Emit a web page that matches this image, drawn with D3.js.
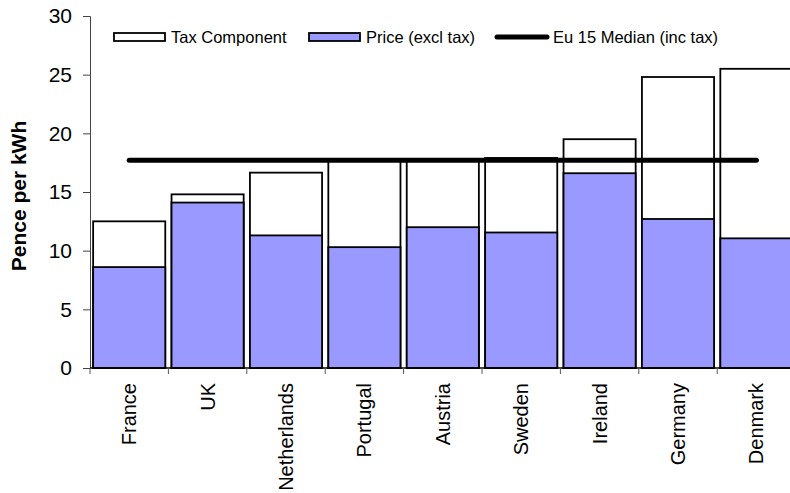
<!DOCTYPE html>
<html>
<head>
<meta charset="utf-8">
<script src="https://cdn.jsdelivr.net/npm/d3@7"></script>
<style>
  html, body { margin: 0; padding: 0; background: #fff; }
  svg { display: block; font-family: "Liberation Sans", Arial, sans-serif; }
</style>
</head>
<body>
<svg id="chart" width="790" height="493"></svg>
<script>
const categories = ["France", "UK", "Netherlands", "Portugal", "Austria", "Sweden", "Ireland", "Germany", "Denmark"];
const priceExclTax = [8.6, 14.1, 11.3, 10.3, 12.0, 11.55, 16.6, 12.7, 11.05];
const totalIncTax = [12.5, 14.8, 16.65, 17.7, 17.7, 17.9, 19.5, 24.8, 25.5];
const euMedian = 17.7;
const yTicks = [0, 5, 10, 15, 20, 25, 30];
const legendLabels = ["Tax Component", "Price (excl tax)", "Eu 15 Median (inc tax)"];

const svg = d3.select("#chart");
const mLeft = 90, mTop = 16, mBottom = 368;
const step = 78.4;

const x = d3.scaleBand()
  .domain(categories)
  .range([mLeft, mLeft + step * categories.length])
  .paddingInner(0.08)
  .paddingOuter(0.04);

const y = d3.scaleLinear().domain([0, 30]).range([mBottom, mTop]);

const g = svg.append("g");
const data = categories.map((c, i) => ({ c, price: priceExclTax[i], total: totalIncTax[i] }));

g.selectAll("rect.total").data(data).join("rect")
  .attr("class", "total")
  .attr("x", d => x(d.c))
  .attr("width", x.bandwidth())
  .attr("y", d => y(d.total))
  .attr("height", d => y(0) - y(d.total))
  .attr("fill", "#ffffff")
  .attr("stroke", "#000")
  .attr("stroke-width", 1.8);

g.selectAll("rect.price").data(data).join("rect")
  .attr("class", "price")
  .attr("x", d => x(d.c))
  .attr("width", x.bandwidth())
  .attr("y", d => y(d.price))
  .attr("height", d => y(0) - y(d.price))
  .attr("fill", "#9999ff")
  .attr("stroke", "#000")
  .attr("stroke-width", 1.8);

// Y axis
const yAxis = d3.axisLeft(y).tickValues(yTicks).tickSize(7).tickPadding(11);
const ya = svg.append("g").attr("transform", `translate(${mLeft},0)`).call(yAxis);
ya.select(".domain").attr("stroke", "#444").attr("stroke-width", 1);
ya.selectAll(".tick line").attr("stroke", "#444");
ya.selectAll(".tick text")
  .attr("font-size", 21)
  .attr("fill", "#000")
  .attr("font-family", "Liberation Sans, Arial, sans-serif");

// X axis baseline and boundary ticks
const boundaries = categories.map(c => x(c) - x.step() * x.paddingInner() / 2);
boundaries.push(x(categories[categories.length - 1]) + x.bandwidth() + x.step() * x.paddingInner() / 2);
svg.append("line")
  .attr("x1", mLeft).attr("x2", boundaries[boundaries.length - 1])
  .attr("y1", y(0)).attr("y2", y(0))
  .attr("stroke", "#000").attr("stroke-width", 1.5);
svg.selectAll("line.xtick").data(boundaries).join("line")
  .attr("class", "xtick")
  .attr("x1", d => d).attr("x2", d => d)
  .attr("y1", y(0)).attr("y2", y(0) + 6)
  .attr("stroke", "#555").attr("stroke-width", 1);

// Category labels
svg.selectAll("text.cat").data(categories).join("text")
  .attr("class", "cat")
  .attr("transform", d => `translate(${x(d) + x.bandwidth() / 2},${y(0) + 15}) rotate(-90)`)
  .attr("text-anchor", "end")
  .attr("dominant-baseline", "central")
  .attr("font-size", 20)
  .attr("fill", "#000")
  .text(d => d);

// Median line
const firstC = x(categories[0]) + x.bandwidth() / 2;
const lastC = x(categories[categories.length - 1]) + x.bandwidth() / 2;
svg.append("line")
  .attr("x1", firstC).attr("x2", lastC)
  .attr("y1", y(euMedian)).attr("y2", y(euMedian))
  .attr("stroke", "#000").attr("stroke-width", 5)
  .attr("stroke-linecap", "round");

// Y axis title
svg.append("text")
  .attr("transform", `translate(18,${(mTop + mBottom) / 2 + 4}) rotate(-90)`)
  .attr("text-anchor", "middle")
  .attr("dominant-baseline", "central")
  .attr("font-size", 21)
  .attr("font-weight", "bold")
  .attr("fill", "#000")
  .text("Pence per kWh");

// Legend
const legY = 37;
const leg = svg.append("g");
leg.append("rect").attr("x", 114).attr("y", legY - 4).attr("width", 51).attr("height", 8)
  .attr("fill", "#fff").attr("stroke", "#000").attr("stroke-width", 1.8);
leg.append("text").attr("x", 171).attr("y", legY).attr("dominant-baseline", "central")
  .attr("font-size", 16.5).text(legendLabels[0]);
leg.append("rect").attr("x", 309).attr("y", legY - 4).attr("width", 51).attr("height", 8)
  .attr("fill", "#9999ff").attr("stroke", "#000").attr("stroke-width", 1.8);
leg.append("text").attr("x", 366).attr("y", legY).attr("dominant-baseline", "central")
  .attr("font-size", 16.5).text(legendLabels[1]);
leg.append("line").attr("x1", 497).attr("x2", 547).attr("y1", legY).attr("y2", legY)
  .attr("stroke", "#000").attr("stroke-width", 5).attr("stroke-linecap", "round");
leg.append("text").attr("x", 553).attr("y", legY).attr("dominant-baseline", "central")
  .attr("font-size", 16.5).text(legendLabels[2]);
</script>
</body>
</html>
